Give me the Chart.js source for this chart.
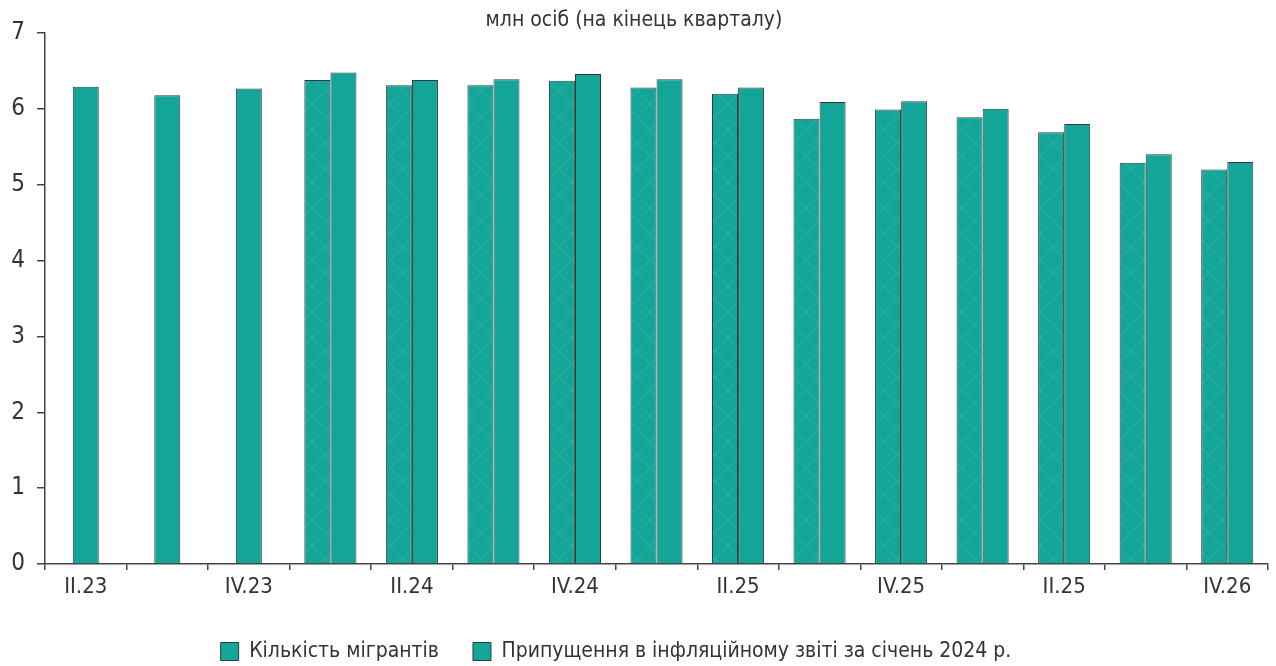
<!DOCTYPE html>
<html>
<head>
<meta charset="utf-8">
<script src="https://cdn.jsdelivr.net/npm/chart.js@4"></script>
<style>
  html, body { margin: 0; padding: 0; background: #fff; overflow: hidden; }
  #wrap { width: 1276px; height: 666px; position: relative; }
</style>
</head>
<body>
<div id="wrap"><canvas id="c"></canvas></div>
<script>
// Quarters (end of quarter) and the labels printed under every other one
const quarters = ['II.23', 'III.23', 'IV.23', 'I.24', 'II.24', 'III.24', 'IV.24', 'I.25',
                  'II.25', 'III.25', 'IV.25', 'I.26', 'II.26', 'III.26', 'IV.26'];
const tickLabels = ['II.23', '', 'IV.23', '', 'II.24', '', 'IV.24', '',
                    'II.25', '', 'IV.25', '', 'II.25', '', 'IV.26'];

// Number of migrants, million persons
const migrants = [null, null, null, 6.38, 6.31, 6.31, 6.37, 6.28, 6.20, 5.87, 5.99, 5.89, 5.69, 5.29, 5.20];
// Assumption from the January 2024 inflation report, million persons
const januaryAssumption = [6.29, 6.18, 6.27, 6.48, 6.38, 6.39, 6.46, 6.39, 6.28, 6.09, 6.10, 6.00, 5.80, 5.40, 5.30];

const seriesNames = ['Кількість мігрантів', 'Припущення в інфляційному звіті за січень 2024 р.'];
const yMin = 0, yMax = 7, yStep = 1;

const FONT = "'Liberation Sans Narrow', 'DejaVu Sans Condensed', 'Noto Sans', sans-serif";
const TEXT = '#333333';
const AXIS = '#444444';
const TEAL = '#13a698';
const EDGE = '#2e3d3b';

// faint diagonal lattice over the teal fill
function latticePattern(base) {
  const s = 26;
  const c = document.createElement('canvas');
  c.width = c.height = s;
  const g = c.getContext('2d');
  g.fillStyle = base;
  g.fillRect(0, 0, s, s);
  g.strokeStyle = 'rgba(255,255,255,0.08)';
  g.lineWidth = 1.3;
  g.beginPath();
  g.moveTo(0, 0); g.lineTo(s, s);
  g.moveTo(s, 0); g.lineTo(0, s);
  g.stroke();
  return g.createPattern(c, 'repeat');
}

// nudges the legend row a little to the left of the centre
const legendShift = {
  id: 'legendShift',
  afterLayout(chart, args, opts) {
    const lg = chart.legend;
    if (!lg) return;
    lg.left += opts.dx;
    lg.right += opts.dx;
  }
};

Chart.defaults.font.family = FONT;
Chart.defaults.color = TEXT;

new Chart(document.getElementById('c'), {
  type: 'bar',
  data: {
    labels: quarters,
    datasets: [
      {
        label: seriesNames[0],
        data: migrants,
        backgroundColor: latticePattern(TEAL),
        borderColor: EDGE,
        borderWidth: 1
      },
      {
        label: seriesNames[1],
        data: januaryAssumption,
        backgroundColor: TEAL,
        borderColor: EDGE,
        borderWidth: 1
      }
    ]
  },
  plugins: [legendShift],
  options: {
    responsive: true,
    maintainAspectRatio: false,
    animation: false,
    layout: { padding: { top: 0, left: 0, right: 8, bottom: -6 } },
    datasets: {
      bar: {
        skipNull: true,
        categoryPercentage: 0.64,
        barPercentage: 1,
        maxBarThickness: 26
      }
    },
    plugins: {
      legendShift: { dx: -18 },
      title: {
        display: true,
        text: 'млн осіб (на кінець кварталу)',
        color: TEXT,
        font: { size: 21, weight: 'normal', family: FONT },
        padding: { top: 7.8, bottom: 0 }
      },
      legend: {
        position: 'bottom',
        labels: {
          font: { size: 21, family: FONT },
          color: TEXT,
          boxWidth: 18,
          boxHeight: 18,
          padding: 34,
          generateLabels(chart) {
            return chart.data.datasets.map((ds, i) => ({
              text: ds.label,
              fillStyle: TEAL,
              strokeStyle: EDGE,
              lineWidth: 1,
              hidden: false,
              datasetIndex: i,
              fontColor: TEXT
            }));
          }
        }
      },
      tooltip: { enabled: false }
    },
    scales: {
      x: {
        offset: true,
        grid: {
          offset: true,
          drawOnChartArea: false,
          drawTicks: true,
          tickLength: 6,
          color: AXIS,
          lineWidth: 1.5
        },
        border: { display: true, color: AXIS, width: 1.5 },
        ticks: {
          autoSkip: false,
          maxRotation: 0,
          padding: 4,
          color: TEXT,
          font: { size: 22, family: FONT },
          callback: (v, i) => tickLabels[i]
        },
        afterFit(scale) { scale.height = 43; }
      },
      y: {
        min: yMin,
        max: yMax,
        grid: {
          drawOnChartArea: false,
          drawTicks: true,
          tickLength: 8,
          color: AXIS,
          lineWidth: 1.5
        },
        border: { display: true, color: AXIS, width: 1.5 },
        ticks: {
          stepSize: yStep,
          padding: 12,
          color: TEXT,
          font: { size: 24, family: FONT }
        },
        afterFit(scale) { scale.width = 45; }
      }
    }
  }
});
</script>
</body>
</html>
